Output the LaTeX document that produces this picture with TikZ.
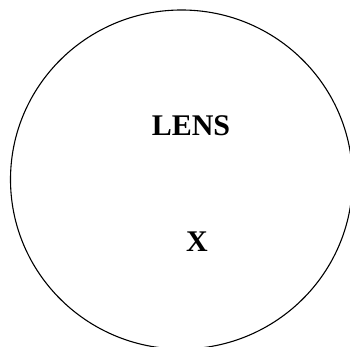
\documentclass[tikz,border=0pt]{standalone}
\usepackage{fontspec}
\setmainfont{Liberation Serif}
\usetikzlibrary{shapes.geometric}
\begin{document}
\begin{tikzpicture}[x=1pt,y=-1pt,
  lbl/.style={font=\bfseries\fontsize{30}{34}\selectfont, inner sep=0pt, anchor=center}]
\useasboundingbox (0,0) rectangle (350,347);
\clip (0,0) rectangle (350,347);
\fill[white] (0,0) rectangle (350,347);
\node[draw, ellipse, line width=1.1pt, minimum width=342pt, minimum height=339pt, inner sep=0pt] (lens) at (181.5,179.5) {};
\node[lbl] (t1) at (191,125.5) {LENS};
\node[lbl] (t2) at (197,241.5) {X};
\end{tikzpicture}
\end{document}
